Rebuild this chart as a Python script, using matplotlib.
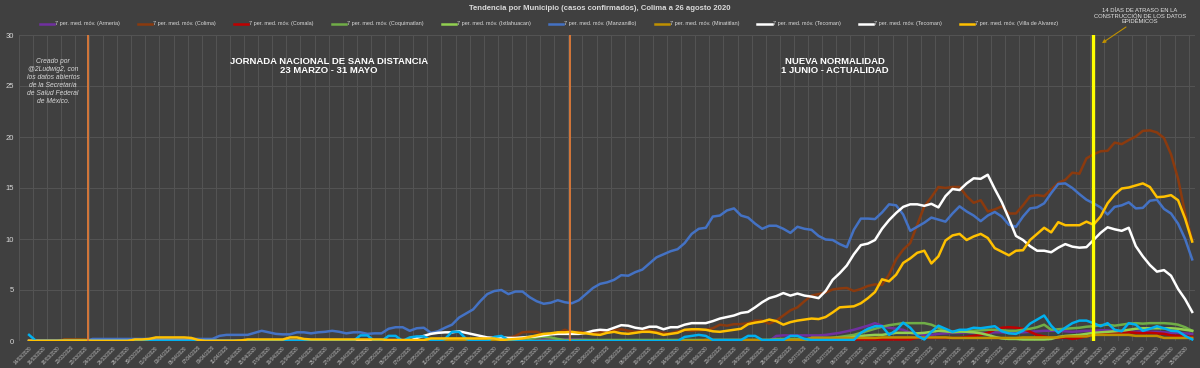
import matplotlib
matplotlib.use("Agg")
import matplotlib.pyplot as plt
import pandas as pd

plt.rcParams["font.family"] = ["Liberation Sans", "DejaVu Sans"]

BG = "#404040"
GRID = "#545454"
TXT = "#d9d9d9"

# Daily categories (14/03/2020 .. 26/08/2020)
fechas = pd.date_range("2020-03-14", "2020-08-26", freq="D")
etiquetas = [f.strftime("%d/%m/%Y") for f in fechas]

armeria = [
    0, 0, 0, 0, 0, 0, 0, 0, 0, 0,
    0, 0, 0, 0, 0, 0, 0, 0, 0, 0,
    0, 0, 0, 0, 0, 0, 0, 0, 0, 0,
    0, 0, 0, 0, 0, 0, 0, 0, 0, 0,
    0, 0, 0, 0, 0, 0, 0, 0, 0, 0,
    0, 0.1, 0.1, 0.1, 0, 0, 0, 0, 0, 0,
    0, 0, 0, 0, 0, 0, 0, 0, 0, 0,
    0, 0, 0, 0.15, 0.15, 0.15, 0.15, 0.15, 0.15, 0.1,
    0, 0, 0, 0, 0, 0, 0, 0, 0, 0,
    0, 0, 0, 0, 0, 0, 0, 0, 0, 0,
    0, 0, 0, 0, 0, 0, 0.5, 0.55, 0.55, 0.55,
    0.55, 0.55, 0.55, 0.6, 0.7, 0.8, 0.95, 1.1, 1.3, 1.5,
    1.75, 1.5, 1.3, 1.2, 1.1, 0.8, 0.7, 0.6, 0.6, 0.7,
    0.75, 0.8, 0.8, 0.85, 0.8, 0.75, 0.8, 0.85, 0.85, 0.8,
    0.8, 0.85, 0.9, 0.95, 1.0, 1.0, 1.0, 0.95, 0.9, 0.95,
    1.0, 1.0, 1.05, 1.05, 1.0, 0.95, 0.9, 0.9, 0.95, 0.9,
    0.9, 0.85, 0.8, 0.8, 0.75, 0.7,
]
colima = [
    0, 0, 0, 0, 0, 0.15, 0.15, 0.15, 0.15, 0,
    0, 0, 0, 0, 0, 0, 0, 0, 0, 0,
    0, 0, 0, 0, 0, 0, 0, 0, 0, 0,
    0, 0, 0, 0, 0, 0, 0, 0, 0, 0,
    0, 0, 0, 0, 0, 0, 0, 0, 0, 0,
    0, 0, 0, 0, 0, 0, 0, 0, 0, 0,
    0, 0, 0, 0, 0, 0, 0, 0.1, 0.3, 0.5,
    0.85, 0.9, 0.9, 0.65, 0.7, 0.8, 1.1, 0.85, 0.9, 0.8,
    0.75, 0.85, 0.95, 1.05, 1.15, 1.0, 0.9, 1.0, 1.05, 0.9,
    0.8, 0.75, 0.95, 1.05, 1.0, 1.05, 1.1, 1.25, 1.6, 1.5,
    1.65, 1.65, 1.75, 2.0, 2.0, 1.7, 2.0, 2.5, 3.0, 3.3,
    3.9, 4.45, 4.6, 4.75, 5.05, 5.15, 5.2, 4.9, 5.1, 5.4,
    5.55, 5.5, 6.5, 8.0, 8.95, 9.6, 11.4, 13.2, 14.1, 15.1,
    15.0, 15.1, 15.1, 14.2, 13.55, 13.8, 12.7, 12.9, 13.2, 12.5,
    12.5, 13.3, 14.2, 14.3, 14.2, 14.85, 15.5, 15.8, 16.5, 16.4,
    17.9, 18.3, 18.6, 18.65, 19.45, 19.3, 19.7, 20.05, 20.6, 20.65,
    20.45, 19.9, 18.3, 15.9, 12.5, 9.9,
]
comala = [
    0, 0, 0, 0, 0, 0, 0, 0, 0, 0,
    0, 0, 0, 0, 0, 0, 0, 0, 0, 0,
    0, 0, 0, 0, 0, 0, 0, 0, 0, 0,
    0, 0, 0, 0, 0, 0, 0, 0, 0, 0,
    0, 0, 0, 0, 0, 0, 0, 0, 0, 0,
    0, 0, 0, 0, 0, 0, 0, 0, 0, 0,
    0, 0, 0, 0, 0, 0, 0, 0, 0, 0,
    0, 0, 0, 0, 0, 0, 0, 0, 0, 0,
    0, 0, 0, 0, 0, 0, 0, 0, 0, 0,
    0, 0, 0, 0, 0, 0, 0, 0, 0, 0,
    0, 0, 0, 0, 0, 0, 0, 0, 0, 0,
    0, 0.15, 0.15, 0.15, 0.15, 0.15, 0.15, 0.15, 0.15, 0.15,
    0.15, 0.15, 0.15, 0.15, 0.15, 0.15, 0.3, 0.3, 0.3, 0.3,
    0.3, 0.3, 0.3, 0.4, 0.5, 0.6, 0.8, 1.1, 1.3, 1.35,
    1.3, 1.2, 0.9, 0.6, 0.45, 0.3, 0.3, 0.35, 0.2, 0.3,
    0.45, 0.6, 0.75, 0.85, 0.85, 0.8, 0.85, 0.8, 0.75, 0.8,
    0.75, 0.7, 0.55, 0.5, 0.45, 0.4,
]
coquimatlan = [
    0, 0, 0, 0, 0, 0, 0, 0, 0, 0,
    0, 0, 0, 0, 0, 0, 0, 0, 0, 0,
    0, 0, 0, 0, 0, 0, 0, 0, 0, 0,
    0, 0, 0, 0, 0, 0, 0, 0, 0, 0,
    0, 0, 0, 0, 0, 0, 0, 0, 0, 0,
    0, 0, 0, 0, 0, 0, 0, 0, 0, 0,
    0, 0, 0, 0, 0, 0, 0, 0, 0, 0,
    0, 0.2, 0.35, 0.4, 0.35, 0.2, 0.1, 0.1, 0.1, 0.1,
    0.1, 0.1, 0.1, 0.1, 0.1, 0.1, 0.1, 0.1, 0.1, 0.1,
    0.1, 0.1, 0.1, 0.1, 0.1, 0.1, 0.1, 0.1, 0.1, 0.1,
    0.1, 0.1, 0.1, 0.1, 0.1, 0.1, 0.2, 0.2, 0.2, 0.2,
    0.2, 0.2, 0.2, 0.2, 0.3, 0.4, 0.5, 0.6, 0.8, 1.0,
    1.2, 1.4, 1.55, 1.65, 1.75, 1.75, 1.75, 1.75, 1.6, 1.3,
    1.0, 0.85, 0.9, 0.95, 1.0, 1.05, 1.1, 1.1, 1.05, 1.0,
    1.0, 1.1, 1.2, 1.35, 1.6, 1.1, 1.15, 1.2, 1.25, 1.3,
    1.4, 1.45, 1.55, 1.6, 1.5, 1.6, 1.7, 1.75, 1.7, 1.75,
    1.75, 1.75, 1.7, 1.6, 1.35, 1.0,
]
ixtlahuacan = [
    0, 0, 0, 0, 0, 0, 0, 0, 0, 0,
    0, 0, 0, 0, 0, 0, 0, 0, 0, 0,
    0, 0, 0, 0, 0, 0, 0, 0, 0, 0,
    0, 0, 0, 0, 0, 0, 0, 0, 0, 0,
    0, 0, 0, 0, 0, 0, 0, 0, 0, 0,
    0, 0, 0, 0, 0, 0, 0, 0, 0, 0,
    0, 0, 0, 0, 0, 0, 0, 0, 0, 0,
    0, 0, 0, 0, 0, 0, 0, 0, 0, 0,
    0, 0, 0, 0, 0, 0, 0, 0, 0, 0,
    0, 0, 0, 0, 0, 0, 0, 0, 0, 0,
    0, 0, 0, 0, 0, 0, 0, 0, 0, 0,
    0, 0.3, 0.3, 0.3, 0.3, 0.3, 0.3, 0.4, 0.5, 0.55,
    0.6, 0.6, 0.7, 0.8, 0.8, 0.8, 0.75, 0.8, 0.9, 1.0,
    0.95, 0.9, 0.95, 0.9, 0.85, 0.75, 0.6, 0.4, 0.25, 0.2,
    0.2, 0.15, 0.15, 0.15, 0.15, 0.2, 0.4, 0.5, 0.55, 0.6,
    0.7, 0.8, 0.85, 0.9, 0.95, 1.0, 1.1, 1.2, 1.25, 1.25,
    1.25, 1.25, 1.25, 1.2, 1.1, 1.0,
]
manzanillo = [
    0, 0, 0, 0, 0, 0, 0, 0, 0, 0.2,
    0.2, 0.2, 0.2, 0.2, 0.2, 0.2, 0.2, 0.2, 0.2, 0.2,
    0.2, 0.2, 0.2, 0.2, 0.2, 0.2, 0.2, 0.5, 0.6, 0.6,
    0.6, 0.6, 0.8, 1.0, 0.85, 0.7, 0.65, 0.65, 0.85, 0.85,
    0.75, 0.85, 0.9, 1.0, 0.9, 0.75, 0.85, 0.85, 0.7, 0.75,
    0.75, 1.2, 1.35, 1.35, 1.0, 1.25, 1.3, 0.8, 0.95, 1.3,
    1.6, 2.3, 2.7, 3.1, 3.9, 4.6, 4.9, 5.0, 4.6, 4.85,
    4.85, 4.3, 3.9, 3.65, 3.75, 4.0, 3.8, 3.7, 4.0, 4.6,
    5.2, 5.6, 5.75, 6.0, 6.45, 6.4, 6.75, 7.0, 7.6, 8.2,
    8.5, 8.8, 9.0, 9.6, 10.5, 11.0, 11.1, 12.2, 12.3, 12.8,
    13.0, 12.3, 12.1, 11.5, 11.0, 11.3, 11.3, 11.0, 10.6, 11.2,
    11.0, 10.9, 10.3, 9.95, 9.9, 9.5, 9.2, 10.9, 12.0, 12.0,
    11.95, 12.6, 13.4, 13.3, 12.4, 10.8, 11.2, 11.6, 12.1, 11.9,
    11.7, 12.5, 13.2, 12.7, 12.3, 11.75, 12.3, 12.65, 12.2, 11.4,
    11.2, 12.2, 13.0, 13.1, 13.5, 14.5, 15.4, 15.45, 15.0, 14.4,
    13.85, 13.5, 13.1, 12.4, 13.15, 13.3, 13.6, 13.0, 13.05, 13.75,
    13.85, 12.95, 12.5, 11.5, 10.0, 8.0,
]
minatitlan = [
    0, 0, 0, 0, 0, 0.1, 0.1, 0.1, 0.1, 0,
    0, 0, 0, 0, 0, 0, 0, 0, 0, 0,
    0, 0, 0, 0, 0, 0, 0, 0, 0, 0,
    0, 0, 0, 0, 0, 0, 0, 0, 0, 0,
    0, 0, 0, 0, 0, 0, 0, 0, 0, 0,
    0, 0, 0, 0, 0, 0, 0, 0, 0, 0,
    0, 0, 0, 0, 0, 0, 0, 0, 0, 0,
    0, 0, 0, 0, 0, 0, 0, 0, 0, 0,
    0, 0, 0, 0, 0, 0, 0, 0, 0, 0,
    0, 0, 0, 0, 0, 0, 0.1, 0.1, 0.1, 0.1,
    0.1, 0.1, 0.1, 0.1, 0.1, 0.1, 0.1, 0.1, 0.1, 0.1,
    0.1, 0.3, 0.3, 0.3, 0.3, 0.3, 0.3, 0.3, 0.3, 0.3,
    0.3, 0.35, 0.35, 0.35, 0.35, 0.35, 0.35, 0.35, 0.35, 0.35,
    0.35, 0.3, 0.3, 0.3, 0.3, 0.3, 0.3, 0.3, 0.3, 0.3,
    0.3, 0.35, 0.35, 0.35, 0.35, 0.35, 0.35, 0.45, 0.45, 0.45,
    0.45, 0.6, 0.6, 0.6, 0.6, 0.6, 0.6, 0.5, 0.5, 0.5,
    0.5, 0.3, 0.3, 0.3, 0.3, 0.3,
]
tecoman = [
    0, 0, 0, 0, 0, 0, 0, 0, 0, 0,
    0, 0, 0, 0, 0, 0, 0, 0, 0, 0,
    0, 0, 0, 0, 0, 0, 0, 0, 0, 0,
    0, 0, 0, 0, 0, 0, 0, 0, 0, 0,
    0, 0, 0, 0, 0, 0, 0, 0, 0, 0,
    0, 0, 0, 0, 0, 0.3, 0.5, 0.7, 0.8, 0.85,
    0.85, 0.95, 0.8, 0.65, 0.5, 0.35, 0.3, 0.35, 0.3, 0.3,
    0.35, 0.4, 0.45, 0.55, 0.65, 0.7, 0.7, 0.7, 0.7, 0.8,
    1.0, 1.1, 1.05, 1.3, 1.55, 1.5, 1.3, 1.2, 1.4, 1.4,
    1.15, 1.35, 1.35, 1.6, 1.75, 1.75, 1.75, 1.95, 2.2, 2.35,
    2.5, 2.75, 2.85, 3.3, 3.8, 4.2, 4.4, 4.7, 4.45, 4.65,
    4.45, 4.35, 4.2, 4.9, 6.0, 6.65, 7.4, 8.5, 9.4, 9.55,
    9.9, 11.0, 11.85, 12.55, 13.15, 13.4, 13.4, 13.25, 13.45, 13.1,
    14.2, 14.9, 14.8, 15.45, 15.95, 15.9, 16.3, 14.9, 13.6, 12.0,
    10.3, 9.9, 9.3, 8.85, 8.85, 8.7, 9.15, 9.5, 9.25, 9.15,
    9.2, 9.9, 10.6, 11.15, 10.95, 10.8, 11.1, 9.3, 8.3, 7.45,
    6.8, 6.95, 6.4, 5.1, 4.1, 2.85,
]
tecoman_b = [
    0.6, 0, 0, 0, 0, 0, 0, 0, 0, 0,
    0, 0, 0, 0, 0, 0, 0, 0, 0, 0,
    0, 0, 0, 0, 0, 0, 0, 0, 0, 0,
    0, 0, 0, 0, 0, 0, 0, 0, 0, 0,
    0, 0, 0, 0, 0, 0, 0, 0.55, 0.55, 0,
    0, 0.5, 0.5, 0, 0.35, 0.45, 0.45, 0.1, 0, 0.2,
    0.9, 0.9, 0.2, 0, 0, 0, 0.4, 0.5, 0.1, 0,
    0, 0, 0, 0, 0, 0, 0, 0, 0, 0,
    0, 0, 0, 0, 0, 0, 0, 0, 0, 0,
    0, 0, 0, 0.4, 0.5, 0.6, 0.5, 0.1, 0.1, 0.1,
    0.1, 0.1, 0.5, 0.5, 0.1, 0.1, 0.1, 0.1, 0.5, 0.5,
    0.2, 0.1, 0.1, 0.1, 0.1, 0.1, 0.1, 0.1, 0.8, 1.2,
    1.45, 1.45, 0.6, 1.05, 1.8, 1.3, 0.5, 0.15, 0.9, 1.5,
    1.2, 0.9, 1.1, 1.1, 1.3, 1.25, 1.35, 1.45, 0.95, 0.75,
    0.7, 1.0, 1.7, 2.1, 2.5, 1.5, 0.8, 1.3, 1.75, 2.0,
    2.0, 1.75, 1.45, 1.75, 1.1, 0.95, 1.75, 1.6, 1.0, 1.2,
    1.45, 1.25, 1.0, 0.95, 0.5, 0.15,
]
villa = [
    0, 0, 0, 0, 0, 0, 0, 0, 0, 0,
    0, 0, 0, 0, 0, 0.15, 0.15, 0.2, 0.35, 0.35,
    0.35, 0.35, 0.35, 0.3, 0.1, 0, 0, 0, 0, 0,
    0.05, 0.15, 0.15, 0.15, 0.15, 0.15, 0.15, 0.35, 0.35, 0.2,
    0.15, 0.15, 0.15, 0.15, 0.15, 0.15, 0.15, 0.15, 0.15, 0.15,
    0.15, 0.1, 0.1, 0.1, 0.1, 0.1, 0.1, 0.25, 0.25, 0.25,
    0.25, 0.25, 0.25, 0.25, 0.25, 0.25, 0.25, 0.1, 0.15, 0.2,
    0.25, 0.4, 0.55, 0.7, 0.75, 0.85, 0.85, 0.9, 0.8, 0.75,
    0.65, 0.6, 0.8, 0.9, 0.75, 0.7, 0.8, 0.9, 0.9, 0.8,
    0.6, 0.7, 0.8, 1.1, 1.15, 1.15, 1.1, 0.95, 0.9, 1.0,
    1.1, 1.2, 1.65, 1.8, 1.9, 2.1, 1.95, 1.6, 1.85, 2.0,
    2.1, 2.2, 2.15, 2.35, 2.8, 3.3, 3.35, 3.4, 3.7, 4.2,
    4.8, 6.05, 5.85, 6.5, 7.65, 8.1, 8.65, 8.85, 7.6, 8.3,
    9.85, 10.35, 10.5, 9.9, 10.25, 10.5, 10.1, 9.1, 8.75, 8.4,
    8.85, 8.9, 9.9, 10.5, 11.1, 10.65, 11.65, 11.35, 11.35, 11.35,
    11.7, 11.4, 12.2, 13.5, 14.35, 14.95, 15.05, 15.25, 15.45, 15.1,
    14.1, 14.15, 14.3, 13.8, 12.0, 9.75,
]

series = [
    ("Armeria", armeria, "#7030A0"),
    ("Colima", colima, "#8B3A0E"),
    ("Comala", comala, "#C00000"),
    ("Coquimatlan", coquimatlan, "#70AD47"),
    ("Ixtlahuacan", ixtlahuacan, "#92D050"),
    ("Manzanillo", manzanillo, "#4472C4"),
    ("Minatitlan", minatitlan, "#BF9000"),
    ("Tecoman", tecoman, "#FFFFFF"),
    ("Tecoman", tecoman_b, "#00B0F0"),
    ("Villa de Alvarez", villa, "#FFC000"),
]

# fechas de los eventos (posicion en dias desde el 14/03)
inicio_jornada = 8.4
fin_jornada = 76.7
corte_atraso = 151

fig = plt.figure(figsize=(12, 3.68), dpi=100, facecolor=BG)
ax = fig.add_axes([18.5 / 1200, 27 / 368, (1195 - 18.5) / 1200, 306 / 368])
ax.set_facecolor(BG)

x = list(range(len(fechas)))
for nombre, vals, col in series:
    ax.plot(x, vals, color=col, lw=1.8, solid_joinstyle="round",
            label=f"7 per. med. móv. ({nombre})")

ax.set_ylim(0, 30)
ax.set_xlim(-1.5, 165.4)
ax.set_yticks(range(0, 31, 5))
ax.set_xticks(x[::2])
ax.set_xticklabels(etiquetas[::2], rotation=45, ha="right",
                   rotation_mode="anchor", fontsize=3.4, color="#bfbfbf")
ax.set_xticks([v - 1.5 for v in range(0, 168, 2)], minor=True)
ax.tick_params(axis="x", which="both", length=0, pad=3)
ax.tick_params(axis="y", length=0, labelsize=5.5, labelcolor=TXT, pad=3)
ax.grid(True, axis="x", which="minor", color=GRID, lw=0.7)
ax.grid(True, axis="y", which="major", color=GRID, lw=0.7)
ax.set_axisbelow(True)
for s in ax.spines.values():
    s.set_visible(False)

# lineas verticales de referencia
for xv in (inicio_jornada, fin_jornada):
    ax.axvline(xv, color="#E07B39", lw=1.3, zorder=5)
ax.axvline(corte_atraso, color="#FFFF00", lw=2.4, zorder=5)

ax.text(3.4, 27.75, "Creado por\n@2Ludwig2, con\nlos datos abiertos\nde la Secretaría\n"
        "de Salud Federal\nde México.", ha="center", va="top", fontsize=4.9,
        style="italic", color=TXT, linespacing=1.22)
ax.text(42.5, 27.0, "JORNADA NACIONAL DE SANA DISTANCIA\n23 MARZO - 31 MAYO",
        ha="center", va="center", fontsize=6.8, fontweight="bold",
        color="white", linespacing=1.0)
ax.text(114.3, 27.0, "NUEVA NORMALIDAD\n1 JUNIO - ACTUALIDAD",
        ha="center", va="center", fontsize=6.8, fontweight="bold",
        color="white", linespacing=1.0)

fig.text(1140 / 1200, 1 - 16 / 368,
         "14 DÍAS DE ATRASO EN LA\nCONSTRUCCIÓN DE LOS DATOS\nEPIDÉMICOS",
         ha="center", va="center", fontsize=4.2, color="#e6e6e6",
         linespacing=1.15)
ax.annotate("", xy=(152.2, 29.2), xycoords="data",
            xytext=(1126 / 1200, 1 - 27 / 368), textcoords="figure fraction",
            arrowprops=dict(arrowstyle="-|>", color="#BF9000", lw=0.8,
                            mutation_scale=5, shrinkA=0, shrinkB=0),
            annotation_clip=False)

fig.text(0.5, 1 - 8 / 368,
         "Tendencia por Municipio (casos confirmados), Colima a 26 agosto 2020",
         ha="center", va="center", fontsize=5.6, fontweight="bold", color=TXT)

leg = fig.legend(loc="center", bbox_to_anchor=(549 / 1200, 1 - 24 / 368),
                 ncol=10, frameon=False, fontsize=4.0, handlelength=2.6,
                 handletextpad=0.2, columnspacing=3.2, labelcolor=TXT)
leg.get_lines()[8].set_color("white")

fig.savefig("out.png", dpi=100, facecolor=BG)
